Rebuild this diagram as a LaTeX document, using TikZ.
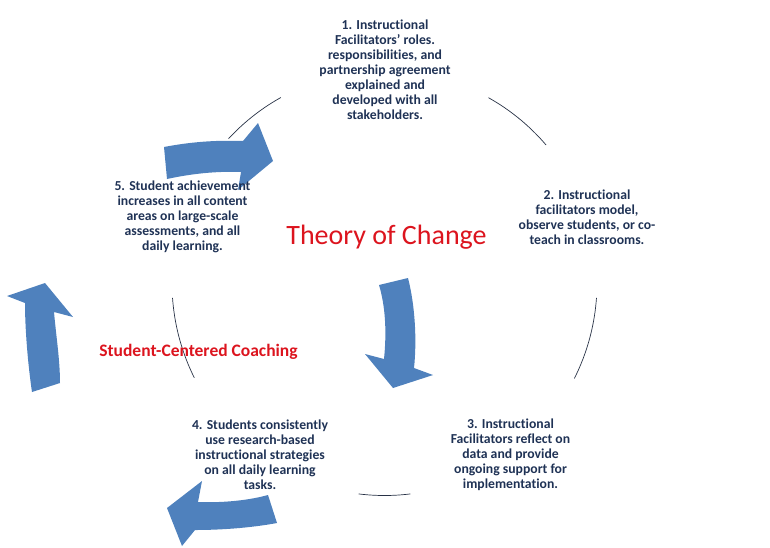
\documentclass[tikz,border=0pt]{standalone}
\usepackage{fontspec}
\setmainfont{Carlito}[Ligatures=NoCommon]
\definecolor{navy}{RGB}{31,50,85}
\definecolor{arrowblue}{RGB}{79,129,189}
\definecolor{redtxt}{RGB}{220,20,30}
\definecolor{arcline}{RGB}{40,50,70}
\begin{document}
\begin{tikzpicture}[x=1pt,y=-1pt,
  stage/.style={align=center, font=\bfseries\fontsize{13.7}{15}\selectfont, text=navy, inner sep=0pt},
  cyc/.style={draw=arcline, line width=0.7pt},
  blockarrow/.style={fill=arrowblue, draw=none}]
\useasboundingbox (0,0) rectangle (770,547);
% cycle arcs (circle centre (384.5,283), r=212.5)
\draw[cyc] plot[domain=137.2:119.2, samples=20] ({384.5+212.5*cos(\x)},{283-212.5*sin(\x)});
\draw[cyc] plot[domain=60.7:40.5, samples=20] ({384.5+212.5*cos(\x)},{283-212.5*sin(\x)});
\draw[cyc] plot[domain=-4:-26.7, samples=20] ({384.5+212.5*cos(\x)},{283-212.5*sin(\x)});
\draw[cyc] plot[domain=-83:-97, samples=20] ({384.5+212.5*cos(\x)},{283-212.5*sin(\x)});
\draw[cyc] plot[domain=184:206.5, samples=20] ({384.5+212.5*cos(\x)},{283-212.5*sin(\x)});
% block arrows
\fill[blockarrow] (164,147) .. controls (190,142) and (215,140) .. (243,141) -- (258,123) -- (273,161) -- (238,190) -- (241,172) .. controls (215,171) and (190,174) .. (167,179) -- cycle;
\fill[blockarrow] (379,285) -- (408,278) .. controls (415,305) and (417,340) .. (414,368) -- (433,375) -- (393,388) -- (365,354) -- (384,359) .. controls (387,330) and (385,305) .. (379,285) -- cycle;
\fill[blockarrow] (268,495) -- (277,523) .. controls (250,528) and (220,530) .. (195,530) -- (182,546) -- (167,508) -- (202,481) -- (198,502) .. controls (225,503) and (250,500) .. (268,495) -- cycle;
\fill[blockarrow] (45,283) -- (73,317) -- (54,312) .. controls (56,335) and (60,360) .. (60,383) -- (32,392) .. controls (28,365) and (25,330) .. (25,303) -- (7,296) -- cycle;
% stage texts
\node[stage] (s1) at (385,70) {1. Instructional\\Facilitators’ roles.\\responsibilities, and\\partnership agreement\\explained and\\developed with all\\stakeholders.};
\node[stage] (s2) at (587,217) {2. Instructional\\facilitators model,\\observe students, or co-\\teach in classrooms.};
\node[stage] (s3) at (510.5,455) {3. Instructional\\Facilitators reflect on\\data and provide\\ongoing support for\\implementation.};
\node[stage] (s4) at (260,455) {4. Students consistently\\use research-based\\instructional strategies\\on all daily learning\\tasks.};
\node[stage] (s5) at (182.5,217) {5. Student achievement\\increases in all content\\areas on large-scale\\assessments, and all\\daily learning.};
% titles
\node[font=\fontsize{28}{32}\selectfont, text=redtxt, anchor=base, inner sep=0pt] (toc) at (386.5,244) {Theory of Change};
\node[font=\bfseries\fontsize{17.5}{20}\selectfont, text=redtxt, anchor=base, inner sep=0pt] (scc) at (198.5,356) {Student-Centered Coaching};
\end{tikzpicture}
\end{document}
